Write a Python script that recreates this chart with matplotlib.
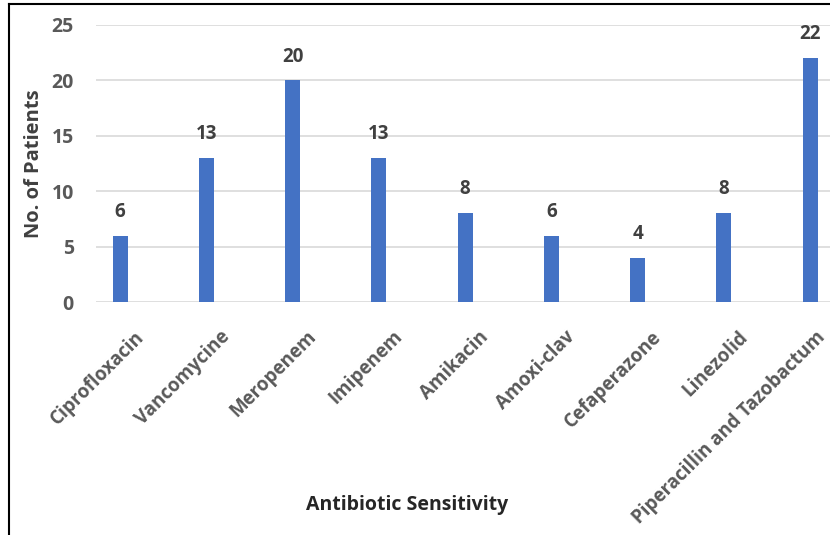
import numpy as np
import matplotlib.pyplot as plt
from matplotlib.lines import Line2D

antibiotics = ["Ciprofloxacin", "Vancomycine", "Meropenem", "Imipenem", "Amikacin",
               "Amoxi-clav", "Cefaperazone", "Linezolid", "Piperacillin and Tazobactum"]
patients = [6, 13, 20, 13, 8, 6, 4, 8, 22]
y_ticks = [0, 5, 10, 15, 20, 25]

plt.rcParams['font.family'] = ['Open Sans', 'DejaVu Sans']

fig = plt.figure(figsize=(8.3, 5.35), dpi=100)
ax = fig.add_axes([96 / 830, 1 - 302 / 535, 734 / 830, 277 / 535])

x = np.arange(len(antibiotics))
ax.bar(x, patients, width=0.175, color="#4472C4", zorder=3)

for xi, v in zip(x, patients):
    ax.annotate(str(v), (xi, v), xytext=(0, 10), textcoords="offset points",
                ha="center", va="bottom", fontsize=13.5, fontweight="bold", color="#404040")

ax.set_ylim(0, 25)
ax.set_xlim(-0.28, 8.23)
ax.set_yticks(y_ticks)
ax.set_yticklabels([str(t) for t in y_ticks], fontsize=14, fontweight="bold", color="#595959")
ax.set_xticks(x)
ax.set_xticklabels([])

# category labels, rotated like Excel: right end sits below and right of the bar
for xi, name in zip(x, antibiotics):
    dx = 15 if xi < len(antibiotics) - 1 else 9  # keep the last one inside the figure
    ax.annotate(name, (xi, 0), xytext=(dx, -23), textcoords="offset points",
                rotation=45, ha="right", va="center", rotation_mode="anchor",
                fontsize=13.5, fontweight="bold", color="#595959", annotation_clip=False)

ax.tick_params(length=0)
ax.tick_params(axis="y", pad=16)
ax.grid(axis="y", color="#d9d9d9", linewidth=1.2, zorder=0)
for s in ax.spines.values():
    s.set_visible(False)

ax.set_ylabel("No. of Patients", fontsize=14.5, fontweight="bold", color="#404040", labelpad=5)
fig.text(407 / 830, 1 - 505 / 535, "Antibiotic Sensitivity", ha="center", va="center",
         fontsize=14, fontweight="bold", color="#262626")

# frame edges visible in the reference
fig.add_artist(Line2D([9 / 830, 9 / 830], [0, 1 - 4 / 535], transform=fig.transFigure,
                      color="black", linewidth=1.5))
fig.add_artist(Line2D([9 / 830, 1], [1 - 4 / 535, 1 - 4 / 535], transform=fig.transFigure,
                      color="black", linewidth=1.5))

fig.savefig("out.png", dpi=100)
